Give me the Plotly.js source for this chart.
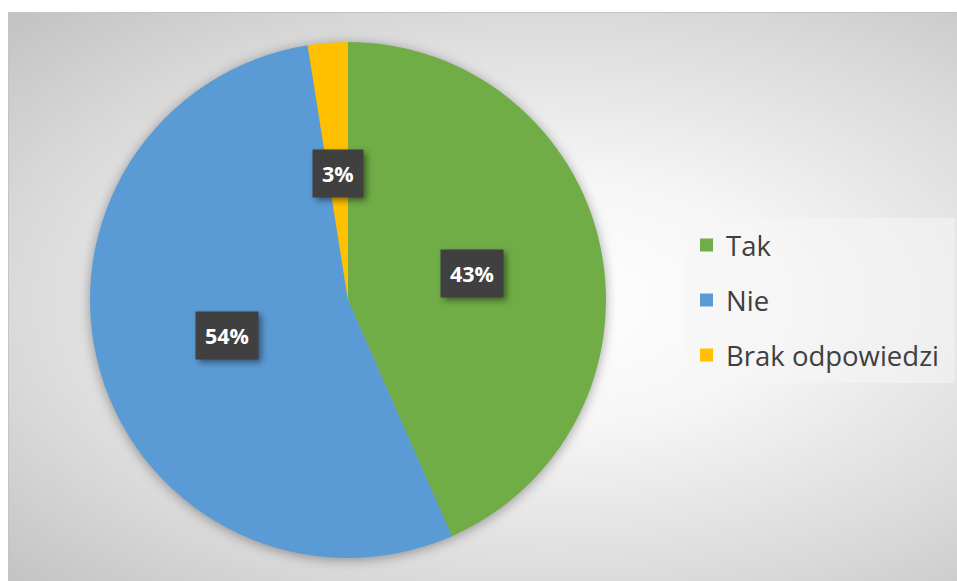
<!DOCTYPE html>
<html>
<head>
<meta charset="utf-8">
<script src="https://cdn.plot.ly/plotly-3.0.1.min.js"></script>
<style>
  html, body { margin: 0; padding: 0; background: #ffffff; }
  #wrap { position: relative; width: 957px; height: 581px; overflow: hidden; }
  #bg { position: absolute; left: 8px; top: 12px; width: 957px; height: 581px;
        border: 1px solid #c4c4c4; box-sizing: border-box;
        background: radial-gradient(ellipse farthest-corner at 57% 50%, #ffffff 0%, #f6f6f6 30%, #dadada 70%, #c2c2c2 100%); }
  #chart { position: absolute; left: 0; top: 0; width: 957px; height: 581px; }
  .pielayer .trace { filter: drop-shadow(0px 2px 6px rgba(0,0,0,0.35)); }
  .annotation .bg { filter: drop-shadow(3px 3px 3px rgba(0,0,0,0.45)); }
</style>
</head>
<body>
<div id="wrap"><div id="bg"></div><div id="chart"></div></div>
<script>
// Data
const labels = ["Tak", "Nie", "Brak odpowiedzi"];
const values = [43.4, 54.1, 2.5];
const pctText = ["43%", "54%", "3%"];
const colors = ["#70AD47", "#5B9BD5", "#FFC000"];

const W = 957, H = 581;
// pie geometry (pixels)
const cx = 348, cy = 300, R = 258;
const domX = [(cx - R) / W, (cx + R) / W];
const domY = [1 - (cy + R) / H, 1 - (cy - R) / H];

const trace = {
  type: "pie",
  labels: labels,
  values: values,
  marker: { colors: colors, line: { width: 0 } },
  sort: false,
  direction: "clockwise",
  rotation: 0,
  textinfo: "none",
  hoverinfo: "label+percent",
  showlegend: false,
  domain: { x: domX, y: domY }
};

// data labels at half radius, mid-angle of each slice
const total = values.reduce((a, b) => a + b, 0);
const annotations = [];
let cum = 0;
values.forEach((v, i) => {
  const mid = (cum + v / 2) / total * 2 * Math.PI;
  cum += v;
  const px = cx + 0.49 * R * Math.sin(mid);
  const py = cy - 0.49 * R * Math.cos(mid);
  annotations.push({
    xref: "paper", yref: "paper",
    x: px / W, y: 1 - py / H,
    xanchor: "center", yanchor: "middle",
    text: "<b>" + pctText[i] + "</b>",
    showarrow: false,
    font: { family: "Open Sans, Noto Sans, sans-serif", size: 21.5, color: "#ffffff" },
    bgcolor: "#404040",
    borderpad: 9
  });
});

// custom legend
const shapes = [];
const legX0 = 686, legX1 = 955, legY0 = 218, legY1 = 383;
shapes.push({
  type: "rect", xref: "paper", yref: "paper",
  x0: legX0 / W, x1: legX1 / W, y0: 1 - legY1 / H, y1: 1 - legY0 / H,
  fillcolor: "rgba(245,245,245,0.55)", line: { width: 0 }, layer: "below"
});
labels.forEach((lab, i) => {
  const yc = 245 + i * 55;
  shapes.push({
    type: "rect", xref: "paper", yref: "paper",
    x0: 700 / W, x1: 713 / W, y0: 1 - (yc + 6.5) / H, y1: 1 - (yc - 6.5) / H,
    fillcolor: colors[i], line: { width: 0 }
  });
  annotations.push({
    xref: "paper", yref: "paper",
    x: 724 / W, y: 1 - yc / H,
    xanchor: "left", yanchor: "middle",
    text: lab, showarrow: false,
    font: { family: "Open Sans, Noto Sans, sans-serif", size: 27.5, color: "#404040" }
  });
});

const layout = {
  width: W, height: H,
  margin: { l: 0, r: 0, t: 0, b: 0 },
  paper_bgcolor: "rgba(0,0,0,0)",
  plot_bgcolor: "rgba(0,0,0,0)",
  showlegend: false,
  annotations: annotations,
  shapes: shapes
};

Plotly.newPlot("chart", [trace], layout, { displayModeBar: false, staticPlot: true });
</script>
</body>
</html>
